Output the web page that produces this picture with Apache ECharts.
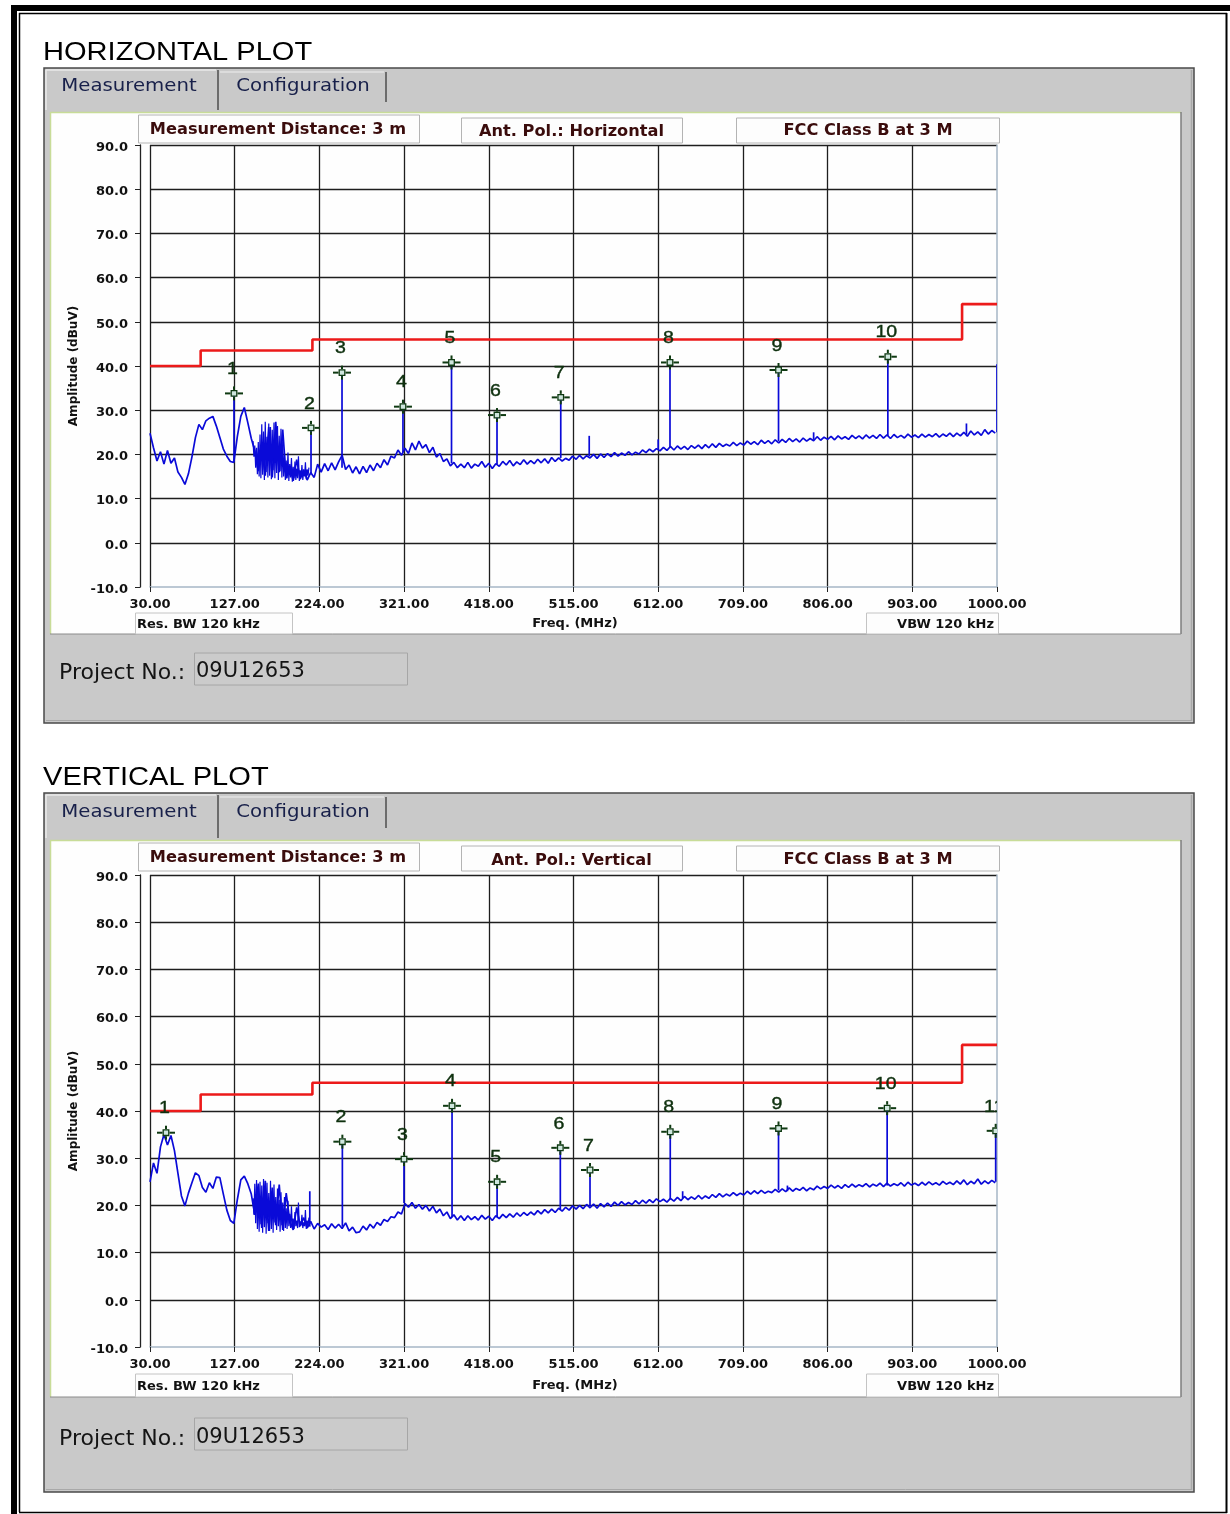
<!DOCTYPE html>
<html><head><meta charset="utf-8">
<script src="https://cdn.jsdelivr.net/npm/echarts@6/dist/echarts.min.js"></script>
<style>html,body{margin:0;padding:0;background:#fff}#c{width:1230px;height:1514px}</style>
</head><body><div id="c"></div>
<script>
// ---------------- DATA ----------------
const xTickLabels = [30, 127, 224, 321, 418, 515, 612, 709, 806, 903, 1000];
const yTickLabels = [-10, 0, 10, 20, 30, 40, 50, 60, 70, 80, 90];

// FCC Class B at 3 m limit (frequency MHz, level dBuV)
const limitFreq = [30, 88, 88, 216, 216, 960, 960, 1000];
const limitDb   = [40, 40, 43.5, 43.5, 46, 46, 54, 54];

const traceStartMHz = 30;
const traceStepMHz = 4;
const horizTrace = [
 24.8,21.5,18.5,20.6,17.8,20.9,18.0,19.2,16.0,14.8,
 13.2,15.6,19.4,23.8,26.8,25.6,27.6,28.2,28.6,26.4,
 23.8,21.2,19.6,18.4,18.2,24.0,28.6,30.6,27.2,23.6,
 20.8,16.2,21.5,15.2,26.2,14.8,27.4,16.0,25.6,14.6,
 17.2,14.0,18.8,14.4,16.6,14.2,15.9,14.8,17.8,16.0,
 17.9,16.3,18.1,16.5,18.3,19.8,16.6,17.6,15.8,17.2,
 15.6,17.3,15.9,17.6,16.3,18.0,17.0,18.8,17.6,19.6,
 19.2,21.0,19.8,21.4,20.2,22.6,21.0,23.0,21.4,22.2,
 20.4,21.6,19.4,20.2,18.4,19.0,17.4,18.2,17.0,17.8,
 17.0,18.2,16.9,17.8,17.3,18.4,17.1,18.0,16.8,17.9,
 17.3,18.4,17.6,18.6,17.4,18.3,17.7,18.8,17.8,18.6,
 17.9,18.9,18.1,19.0,18.0,19.3,18.4,19.2,18.5,19.1,
 18.7,19.6,18.9,19.8,19.0,19.7,19.2,20.0,19.1,20.1,
 19.3,20.2,19.5,20.4,19.6,20.3,19.8,20.6,19.9,20.5,
 20.1,21.0,20.4,21.2,20.6,21.3,20.8,21.6,20.9,21.8,
 21.0,21.9,21.2,21.8,21.1,22.0,21.4,22.1,21.3,22.2,
 21.5,22.4,21.6,22.5,21.8,22.3,21.9,22.7,22.0,22.6,
 22.1,23.0,22.3,22.9,22.2,23.2,22.5,23.1,22.4,23.3,
 22.6,23.4,22.7,23.6,22.9,23.5,22.8,23.7,23.0,23.6,
 23.1,24.0,23.2,23.9,23.4,24.1,23.3,24.2,23.5,24.0,
 23.4,24.3,23.6,24.2,23.5,24.4,23.7,24.3,23.6,24.5,
 23.7,24.4,23.6,24.5,23.8,24.3,23.7,24.6,23.9,24.4,
 23.8,24.6,23.9,24.5,24.0,24.7,23.9,24.6,24.1,24.8,
 24.0,24.8,24.2,25.0,24.1,25.3,24.4,25.1,24.3,25.6,
 24.6,25.4,24.8
];
const vertTrace = [
 25.0,29.0,26.8,32.4,35.0,32.8,34.8,31.6,26.8,22.0,
 19.9,22.6,24.8,26.9,26.3,23.8,22.8,24.8,23.6,26.0,
 25.9,22.4,19.0,16.8,16.2,21.2,25.4,26.2,24.6,22.4,
 18.0,24.6,15.2,25.2,14.6,23.8,15.8,24.4,14.8,22.6,
 16.8,14.8,19.6,15.6,17.4,15.2,16.6,15.0,16.2,15.4,
 15.9,14.9,16.1,15.2,16.0,15.1,16.3,14.6,15.4,14.2,
 14.4,15.6,14.8,16.0,15.2,16.4,15.8,17.0,16.6,17.6,
 17.4,18.6,18.2,20.4,19.6,20.6,19.4,20.2,19.2,20.0,
 18.8,19.8,18.4,19.2,17.8,18.6,17.2,18.0,16.9,17.8,
 16.8,17.8,17.0,17.6,16.9,17.9,17.1,17.7,16.8,17.8,
 17.2,18.1,17.4,18.2,17.5,18.4,17.7,18.5,17.9,18.6,
 18.0,18.9,18.2,19.1,18.4,19.2,18.5,19.4,18.8,19.6,
 19.0,19.9,19.2,20.0,19.3,20.2,19.5,20.3,19.4,20.4,
 19.7,20.5,19.8,20.7,20.0,20.8,20.1,20.6,20.2,21.0,
 20.3,21.1,20.5,21.2,20.6,21.4,20.8,21.3,20.7,21.5,
 20.9,21.7,21.0,21.9,21.2,21.8,21.3,22.1,21.4,22.0,
 21.5,22.3,21.7,22.5,21.8,22.4,22.0,22.7,22.1,22.6,
 22.2,23.0,22.4,23.1,22.5,23.2,22.6,23.0,22.7,23.4,
 22.8,23.5,22.9,23.7,23.0,23.6,23.2,23.8,23.1,23.7,
 23.3,24.1,23.5,24.0,23.6,24.3,23.7,24.2,23.6,24.4,
 23.8,24.5,23.9,24.4,24.0,24.6,23.9,24.5,24.1,24.7,
 24.0,24.7,24.1,24.6,24.2,24.8,24.1,24.9,24.3,24.7,
 24.2,24.9,24.3,25.0,24.4,24.8,24.3,25.1,24.5,24.9,
 24.4,25.2,24.5,25.4,24.4,25.1,24.6,25.6,24.5,25.2,
 24.6,25.3,24.8
];

// Dense noise burst, read every 1 MHz from 148 MHz
const burstStartMHz = 148;
const burstStepMHz = 1;
const horizBurst = [
 23.0,19.5,22.0,17.0,21.5,15.5,22.8,15.0,24.5,14.6,
 26.8,15.4,25.2,14.2,27.4,16.0,24.0,14.8,27.0,15.2,
 26.2,14.4,25.6,16.4,27.2,14.6,25.0,15.8,26.4,14.2,
 24.2,16.2,25.8,14.8,23.0,15.0,19.8,14.2,18.6,14.6,
 20.4,14.0,17.8,14.8,19.2,13.8,17.2,14.6,18.4,14.2,
 16.8,14.6,19.6,14.0,16.4,14.8,17.6,14.2,16.2,15.0,
 18.2,14.4,16.6,15.2,17.0
];
const vertBurst = [
 21.5,18.0,24.6,16.2,25.4,15.0,23.8,14.4,25.0,16.0,
 24.2,14.2,25.6,15.4,23.4,14.0,24.8,16.2,22.6,14.6,
 25.2,15.0,23.0,14.2,24.4,16.4,21.8,14.8,23.6,15.6,
 21.2,14.4,22.8,15.8,20.6,14.6,21.8,15.2,19.4,15.0,
 21.0,15.6,18.2,15.2,19.8,15.4,17.2,15.0,18.6,15.6,
 16.8,15.2,20.6,15.4,16.6,15.8,18.0,15.2,16.4,15.6,
 19.0,15.0,16.8,15.6,17.4
];

// Markers (frequency MHz, level dBuV, spike foot level)
const horizMarkLabel = ['1','2','3','4','5','6','7','8','9','10'];
const horizMarkFreq  = [126.2, 214.4, 249.9, 319.7, 375.3, 427.4, 500.4, 625.5, 749.8, 875.0];
const horizMarkDb    = [33.8, 26.0, 38.5, 30.8, 40.8, 28.9, 32.9, 40.8, 39.1, 42.1];
const horizSpikeFoot = [18.5, 15.5, 17.0, 20.5, 18.0, 17.8, 19.2, 21.5, 23.0, 24.2];
// Other spikes without markers: [freq, top, foot]
const horizExtraSpikes = [[533, 24.2, 19.6], [612, 23.4, 21.0], [790, 25.0, 23.3], [965, 27.0, 24.5], [1000, 40.4, 25.0]];

const vertMarkLabel = ['1','2','3','4','5','6','7','8','9','10','11'];
const vertMarkFreq  = [48.3, 250.3, 320.9, 375.9, 427.5, 499.9, 533.9, 625.8, 749.8, 874.2, 998.5];
const vertMarkDb    = [35.4, 33.5, 29.8, 41.1, 25.0, 32.2, 27.5, 35.6, 36.3, 40.6, 35.8];
const vertSpikeFoot = [35.0, 15.5, 20.5, 17.5, 17.5, 19.2, 19.8, 21.3, 23.2, 24.2, 25.0];
const vertExtraSpikes = [[213, 23.0, 15.5], [640, 23.0, 21.5], [760, 24.2, 23.0]];

// ---------------- DRAWING ----------------
const chart = echarts.init(document.getElementById('c'), null, {renderer: 'canvas', width: 1230, height: 1514});

function R(x, y, w, h, fill, stroke, lw, z) {
  return {type: 'rect', z: z == null ? -10 : z, shape: {x, y, width: w, height: h},
    style: {fill: fill || 'transparent', stroke: stroke || 'transparent', lineWidth: lw || 0}};
}
function L(x1, y1, x2, y2, stroke, lw, z) {
  return {type: 'line', z: z == null ? -8 : z, shape: {x1, y1, x2, y2}, style: {stroke, lineWidth: lw || 1}};
}
function T(x, y, text, font, fill, align, sx, z) {
  return {type: 'text', z: z == null ? 10 : z, x, y: y + 2, scaleX: sx || 1,
    style: {text, font, fill, textAlign: align || 'left', textVerticalAlign: 'middle', align: align || 'left', verticalAlign: 'middle'}};
}

const hdrFont = 'bold 15px "DejaVu Sans"';
const hdrColor = '#3a0c0c';
const tabFont = '17px "DejaVu Sans"';
const tabColor = '#18204a';
const smallBold = 'bold 13px "DejaVu Sans"';

function panel(P) {
  const e = [];
  e.push(T(43, P.titleY, P.title, '25.5px "Liberation Sans"', '#000', 'left', 1.14, 10));
  e.push(R(44, P.top, 1150, P.bot - P.top, '#c9c9c9', '#4a4a4a', 1.5, -20));
  e.push(L(1191.5, P.top + 2, 1191.5, P.bot - 2, '#a8a8a8', 1.5, -19));
  e.push(L(46, P.bot - 2.5, 1192, P.bot - 2.5, '#a8a8a8', 1, -19));
  e.push(L(46, P.tabT + 1, 216, P.tabT + 1, '#e8e8e8', 1.5, -18));
  e.push(L(46, P.tabT + 1, 46, P.wT - 2, '#e8e8e8', 1.5, -18));
  e.push(L(218, P.tabT + 1, 218, P.wT - 2, '#6c6c6c', 2, -18));
  e.push(L(220, P.tabT + 3, 384, P.tabT + 3, '#e2e2e2', 1.5, -18));
  e.push(L(386, P.tabT + 3, 386, P.tabB - 2, '#6c6c6c', 2, -18));
  e.push(T(129, P.tabTextY, 'Measurement', tabFont, tabColor, 'center', 1.16));
  e.push(T(303, P.tabTextY, 'Configuration', tabFont, tabColor, 'center', 1.16));
  e.push(R(50, P.wT, 1131, P.wB - P.wT, '#fefefe', null, 0, -15));
  e.push(L(50, P.wT + 0.5, 1181, P.wT + 0.5, '#c8dc98', 1.5, -14));
  e.push(L(50.5, P.wT, 50.5, P.wB, '#c8dc98', 1.5, -14));
  e.push(L(1181, P.wT, 1181, P.wB, '#7c7c7c', 1.5, -14));
  e.push(L(50, P.wB, 1181, P.wB, '#8c8c8c', 1, -14));
  e.push(R(138.5, P.h1T, 281, P.hB - P.h1T, '#fdfdfd', '#b4b4b4', 1, -5));
  e.push(R(461.5, P.h2T, 221, P.hB - P.h2T, '#fdfdfd', '#b4b4b4', 1, -5));
  e.push(R(736.5, P.h2T, 263, P.hB - P.h2T, '#fdfdfd', '#b4b4b4', 1, -5));
  e.push(T(278, P.h1Y, 'Measurement Distance: 3 m', hdrFont, hdrColor, 'center', 1.08));
  e.push(T(571.5, P.h2Y, P.pol, hdrFont, hdrColor, 'center', 1.08));
  e.push(T(868, P.h3Y, 'FCC Class B at 3 M', hdrFont, hdrColor, 'center', 1.08));
  e.push(R(135.5, P.bwT, 157, P.wB - P.bwT, '#fdfdfd', '#c4c4c4', 1, -5));
  e.push(R(866.5, P.bwT, 132, P.wB - P.bwT, '#fdfdfd', '#c4c4c4', 1, -5));
  e.push(T(137, P.bwY, 'Res. BW 120 kHz', smallBold, '#111', 'left', 1));
  e.push(T(994, P.bwY, 'VBW 120 kHz', smallBold, '#111', 'right', 1));
  e.push(T(575, P.freqY, 'Freq. (MHz)', smallBold, '#111', 'center', 1));
  e.push(T(59, P.projY, 'Project No.:', '22px "DejaVu Sans"', '#141414', 'left', 1));
  e.push(R(194.5, P.pT, 213, P.pB - P.pT, '#cbcbcb', '#a6a6a6', 1, -5));
  e.push(T(196, P.projY - 1, '09U12653', '21px "DejaVu Sans"', '#141414', 'left', 1));
  return e;
}

const frame = [
  R(11, 5, 6, 1509, '#000', null, 0, -30),
  R(11, 5, 1219, 6, '#000', null, 0, -30),
  L(19.5, 13, 19.5, 1512, '#000', 1.5, -30),
  L(19, 13.5, 1227, 13.5, '#000', 1.5, -30),
  L(1226.5, 13, 1226.5, 1513, '#000', 2, -30),
  L(19, 1512.5, 1227, 1512.5, '#000', 1.5, -30)
];

const topPanel = panel({title: 'HORIZONTAL PLOT', titleY: 51, top: 68, bot: 723, tabT: 69, tabB: 104, tabTextY: 85,
  wT: 112, wB: 634, h1T: 115, h2T: 118, hB: 143, h1Y: 128, h2Y: 130, h3Y: 129, pol: 'Ant. Pol.: Horizontal',
  bwT: 613, bwY: 623, freqY: 622, projY: 671, pT: 653, pB: 685});
const botPanel = panel({title: 'VERTICAL PLOT', titleY: 776, top: 793, bot: 1492, tabT: 794, tabB: 830, tabTextY: 811,
  wT: 840, wB: 1397, h1T: 843, h2T: 846, hB: 871, h1Y: 856, h2Y: 859, h3Y: 858, pol: 'Ant. Pol.: Vertical',
  bwT: 1374, bwY: 1385, freqY: 1384, projY: 1437, pT: 1418, pB: 1450});

const labelFont = {fontFamily: 'DejaVu Sans', fontWeight: 'bold', fontSize: 13, color: '#111'};
const gridLine = {color: '#1e1e1e', width: 1.3};

function mkX(g) {
  return {gridIndex: g, type: 'value', min: xTickLabels[0], max: xTickLabels[xTickLabels.length - 1],
    interval: xTickLabels[1] - xTickLabels[0],
    axisLine: {show: true, onZero: false, lineStyle: {color: '#a6b6c6', width: 1.5}},
    axisTick: {show: true, length: 5, lineStyle: {color: '#222', width: 1}},
    axisLabel: Object.assign({margin: 11, formatter: v => v.toFixed(2), showMinLabel: true, showMaxLabel: true}, labelFont),
    splitLine: {show: true, showMaxLine: false, lineStyle: gridLine}};
}
function mkY(g) {
  return {gridIndex: g, type: 'value', min: yTickLabels[0], max: yTickLabels[yTickLabels.length - 1],
    interval: yTickLabels[1] - yTickLabels[0], offset: 10,
    axisLine: {show: true, onZero: false, lineStyle: {color: '#222', width: 1.3}},
    axisTick: {show: true, length: 5, lineStyle: {color: '#222', width: 1}},
    axisLabel: {margin: 12, formatter: v => '{a|' + v.toFixed(1) + '}',
      rich: {a: Object.assign({padding: [5, 0, 0, 0]}, labelFont)}},
    splitLine: {show: true, showMinLine: false, lineStyle: gridLine},
    name: 'Amplitude (dBuV)', nameLocation: 'middle', nameRotate: 90, nameGap: 52,
    nameTextStyle: {fontFamily: 'DejaVu Sans', fontWeight: 'bold', fontSize: 12, color: '#111'}};
}
function mkYR(g) {
  return {gridIndex: g, type: 'value', position: 'right', min: -10, max: 90,
    axisLine: {show: true, onZero: false, lineStyle: {color: '#a6b6c6', width: 1.5}},
    axisTick: {show: false}, axisLabel: {show: false}, splitLine: {show: false}};
}

function seqData(arr, start, step) { return arr.map((v, i) => [start + i * step, v]); }
function limitData() { return limitFreq.map((f, i) => [f, limitDb[i]]); }

const blue = '#0a0ad8';
function seriesFor(g, trace, burst, mFreq, mDb, mLab, mFoot, extra) {
  const spikes = mFreq.map((f, i) => [f, mDb[i], mFoot[i]]).concat(extra);
  return [
    {type: 'line', xAxisIndex: g, yAxisIndex: g, data: limitData(), symbol: 'none', z: 2,
      lineStyle: {color: '#ec1a1a', width: 2.6}, animation: false},
    {type: 'line', xAxisIndex: g, yAxisIndex: g, data: seqData(trace, traceStartMHz, traceStepMHz), symbol: 'none', z: 3,
      lineStyle: {color: blue, width: 1.7}, animation: false},
    {type: 'line', xAxisIndex: g, yAxisIndex: g, data: seqData(burst, burstStartMHz, burstStepMHz), symbol: 'none', z: 3,
      lineStyle: {color: blue, width: 1.2}, animation: false},
    {type: 'custom', xAxisIndex: g, yAxisIndex: g, data: spikes, z: 3, clip: true,
      encode: {x: 0, y: [1, 2]},
      renderItem: (params, api) => {
        const a = api.coord([api.value(0), api.value(1)]);
        const b = api.coord([api.value(0), api.value(2)]);
        return {type: 'line', shape: {x1: a[0], y1: a[1], x2: b[0], y2: b[1]}, style: {stroke: blue, lineWidth: 1.7}};
      }},
    {type: 'custom', xAxisIndex: g, yAxisIndex: g, data: mFreq.map((f, i) => [f, mDb[i]]), z: 6, clip: true,
      encode: {x: 0, y: 1},
      renderItem: (params, api) => {
        const p = api.coord([api.value(0), api.value(1)]);
        const x = p[0], y = p[1], c = '#0f3a12';
        return {type: 'group', children: [
          {type: 'line', shape: {x1: x - 9, y1: y, x2: x - 3.5, y2: y}, style: {stroke: c, lineWidth: 2}},
          {type: 'line', shape: {x1: x + 3.5, y1: y, x2: x + 9, y2: y}, style: {stroke: c, lineWidth: 2}},
          {type: 'line', shape: {x1: x, y1: y - 7, x2: x, y2: y - 3.5}, style: {stroke: c, lineWidth: 2}},
          {type: 'line', shape: {x1: x, y1: y + 3.5, x2: x, y2: y + 7}, style: {stroke: c, lineWidth: 2}},
          {type: 'rect', shape: {x: x - 2.8, y: y - 2.8, width: 5.6, height: 5.6}, style: {fill: '#cfe6de', stroke: c, lineWidth: 1.3}},
          {type: 'text', x: x - 1.5, y: y - 24, scaleX: 1.15,
            style: {text: mLab[params.dataIndex], font: '17px "Liberation Sans"', fill: '#0e300e',
              stroke: '#0e300e', lineWidth: 0.4,
              textAlign: 'center', textVerticalAlign: 'middle', align: 'center', verticalAlign: 'middle'}}
        ]};
      }}
  ];
}

const option = {
  animation: false,
  backgroundColor: '#ffffff',
  graphic: {elements: frame.concat(topPanel, botPanel)},
  grid: [{left: 150, top: 145, width: 847, height: 442}, {left: 150, top: 875, width: 847, height: 472}],
  xAxis: [mkX(0), mkX(1)],
  yAxis: [mkY(0), mkY(1), mkYR(0), mkYR(1)],
  series: seriesFor(0, horizTrace, horizBurst, horizMarkFreq, horizMarkDb, horizMarkLabel, horizSpikeFoot, horizExtraSpikes)
    .concat(seriesFor(1, vertTrace, vertBurst, vertMarkFreq, vertMarkDb, vertMarkLabel, vertSpikeFoot, vertExtraSpikes))
};
chart.setOption(option);
</script>
</body></html>
